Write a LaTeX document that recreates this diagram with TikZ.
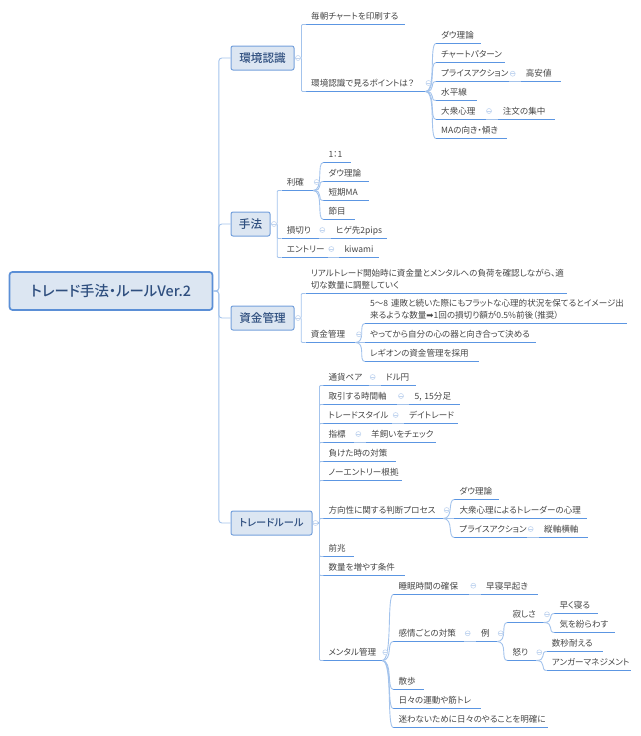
\documentclass[tikz,border=0pt]{standalone}
\usepackage{fontspec}
\setmainfont[RawFeature=+palt,BoldFont={Noto Sans CJK JP Medium}]{Noto Sans CJK JP}
\newfontfamily\symfont{DejaVu Sans}
\definecolor{linedark}{HTML}{5B8FD6}
\definecolor{lineunder}{HTML}{5C96E2}
\definecolor{linelight}{HTML}{A3C3EC}
\definecolor{foldline}{HTML}{C3D6F0}
\definecolor{boxfill}{HTML}{DCE6F2}
\definecolor{boxtext}{HTML}{2F4F7F}
\definecolor{topictext}{HTML}{454545}
\tikzset{
  root/.style={draw=linedark,fill=boxfill,line width=1.7pt,rounded corners=3pt,text=boxtext,font=\fontsize{14.4}{16}\selectfont\bfseries,minimum width=203,minimum height=38,inner sep=0},
  branch/.style={draw=linedark!85,fill=boxfill,line width=1pt,rounded corners=2pt,text=boxtext,font=\fontsize{11.6}{14}\selectfont\bfseries,minimum height=24,inner sep=0},
  topic/.style={anchor=south west,inner xsep=0,inner ysep=3,text width=#1,text height=8,text depth=2,align=left,text=topictext,font=\fontsize{8.55}{12.2}\selectfont,
    execute at begin node={\advance\leftskip by 5pt},
    append after command={\pgfextra{\draw[lineunder,line width=1.4pt] (\tikzlastnode.south west) -- (\tikzlastnode.south east);}}},
  link/.style={draw=linelight,line width=0.9pt},
  trunk/.style={link,rounded corners=3pt},
  bracket/.style={link,rounded corners=1pt},
  fan/.style={link,to path={.. controls +(11,0) and +(-7,0) .. (\tikztotarget)}},
  fold/.style={circle,draw=foldline,fill=white,line width=0.6pt,inner sep=0,minimum size=5,
    path picture={\draw[foldline,line width=0.6pt] (path picture bounding box.west) -- (path picture bounding box.east);}}
}
\begin{document}
\begin{tikzpicture}[x=1pt,y=-1pt]
  \useasboundingbox (0,0) rectangle (640,736);

  \node[root] (main) at (111,291) {トレード手法・ルールVer.2};
  \node[branch,minimum width=63] (env) at (262.5,58) {環境認識};
  \node[branch,minimum width=39] (method) at (250.5,224) {手法};
  \node[branch,minimum width=63] (fund) at (262.5,318) {資金管理};
  \node[branch,minimum width=81,font=\fontsize{10.2}{14}\selectfont\bfseries] (rule) at (271.5,523) {トレードルール};

  \node[topic=99] (print) at (306,24.5) {毎朝チャートを印刷する};
  \node[topic=119] (points) at (306,91.5) {環境認識で見るポイントは？};
  \node[topic=45] (dowA) at (436,43.5) {ダウ理論};
  \node[topic=69] (pattern) at (436,62.5) {チャートパターン};
  \node[topic=73] (priceA) at (436,81.5) {プライスアクション};
  \node[topic=40] (highlow) at (520.7,81.5) {高安値};
  \node[topic=41] (level) at (436,100.5) {水平線};
  \node[topic=50] (crowdA) at (436,119.5) {大衆心理};
  \node[topic=57] (order) at (497.7,119.5) {注文の集中};
  \node[topic=71] (slope) at (436,138.5) {MAの向き・傾き};

  \node[topic=31] (profit) at (281.7,190.5) {利確};
  \node[topic=36.6] (loss) at (281.7,238.5) {損切り};
  \node[topic=56] (wick) at (330.7,238.5) {ヒゲ先2pips};
  \node[topic=45.6] (entry) at (281.7,257.5) {エントリー};
  \node[topic=39.7] (kiwami) at (339.3,257.5) {kiwami};
  \node[topic=27.4] (ratio) at (323.3,162.5) {1：1};
  \node[topic=45.7] (dowB) at (323.3,181.5) {ダウ理論};
  \node[topic=45.7] (shortma) at (323.3,200.5) {短期MA};
  \node[topic=31.7] (node) at (323.3,219.5) {節目};

  \node[topic=261,text depth=14.2] (live) at (305.7,293.5) {リアルトレード開始時に資金量とメンタルへの負荷を確認しながら、適\\切な数量に調整していく};
  \node[topic=49.3] (money) at (305.7,342.5) {資金管理};
  \node[topic=261.7,text depth=14.2] (streak) at (365,323.5) {5～8 連敗と続いた際にもフラットな心理的状況を保てるとイメージ出\\来るような数量{\symfont ➡}1回の損切り額が0.5\%前後（推奨）};
  \node[topic=170.7] (vessel) at (365,342.5) {やってから自分の心の器と向き合って決める};
  \node[topic=113.3] (legion) at (365,361.5) {レギオンの資金管理を採用};

  \node[topic=45] (pair) at (323.3,385.5) {通貨ペア};
  \node[topic=35.3] (usdjpy) at (380.7,385.5) {ドル円};
  \node[topic=73.4] (frame) at (323.3,404.5) {取引する時間軸};
  \node[topic=50.7] (minute) at (409.3,404.5) {5, 15分足};
  \node[topic=68.4] (style) at (323.3,423.5) {トレードスタイル};
  \node[topic=53.3] (day) at (404,423.5) {デイトレード};
  \node[topic=30.7] (indicator) at (323.3,442.5) {指標};
  \node[topic=70] (sheep) at (366,442.5) {羊飼いをチェック};
  \node[topic=72.4] (defeat) at (323.3,461.5) {負けた時の対策};
  \node[topic=78.4] (noentry) at (323.3,480.5) {ノーエントリー根拠};
  \node[topic=119.4] (direction) at (323.3,518.5) {方向性に関する判断プロセス};
  \node[topic=44.4] (dowC) at (454.3,499.5) {ダウ理論};
  \node[topic=132.4] (crowdB) at (454.3,518.5) {大衆心理によるトレーダーの心理};
  \node[topic=72.4] (priceB) at (454.3,537.5) {プライスアクション};
  \node[topic=48.7] (axis) at (539,537.5) {縦軸横軸};
  \node[topic=30.7] (omen) at (323.3,556.5) {前兆};
  \node[topic=81.7] (lots) at (323.3,575.5) {数量を増やす条件};
  \node[topic=58.4] (mental) at (323.3,660.5) {メンタル管理};

  \node[topic=75.7] (sleep) at (393.3,594.5) {睡眠時間の確保};
  \node[topic=56.3] (early) at (481,594.5) {早寝早起き};
  \node[topic=70.7] (emotion) at (393.3,641.5) {感情ごとの対策};
  \node[topic=20.7] (sample) at (476,641.5) {例};
  \node[topic=36] (lonely) at (507.3,622.5) {寂しさ};
  \node[topic=28.4] (anger) at (507.3,660.5) {怒り};
  \node[topic=43.4] (bed) at (554.3,613.5) {早く寝る};
  \node[topic=60.7] (distract) at (554.3,632.5) {気を紛らわす};
  \node[topic=55.6] (endure) at (546.7,651.5) {数秒耐える};
  \node[topic=84.3] (angermgmt) at (546.7,670.5) {アンガーマネジメント};
  \node[topic=30.7] (walk) at (393.3,689.5) {散歩};
  \node[topic=87.7] (muscle) at (393.3,708.5) {日々の運動や筋トレ};
  \node[topic=154.4] (clear) at (393.3,727.5) {迷わないために日々のやることを明確に};

  \draw[trunk] (main.east) -- ++(5.5,0) |- (env.west);
  \draw[trunk] (main.east) -- ++(5.5,0) |- (method.west);
  \draw[trunk] (main.east) -- ++(5.5,0) |- (fund.west);
  \draw[trunk] (main.east) -- ++(5.5,0) |- (rule.west);

  \draw[bracket] (env.east) -- ++(7,0) |- (print.south west);
  \draw[bracket] (env.east) -- ++(7,0) |- (points.south west);
  \draw[fan] (points.south east) to (dowA.south west);
  \draw[fan] (points.south east) to (pattern.south west);
  \draw[fan] (points.south east) to (priceA.south west);
  \draw[fan] (points.south east) to (level.south west);
  \draw[fan] (points.south east) to (crowdA.south west);
  \draw[fan] (points.south east) to (slope.south west);
  \draw[link] (priceA.south east) -- (highlow.south west);
  \draw[link] (crowdA.south east) -- (order.south west);

  \draw[bracket] (method.east) -- ++(6.7,0) |- (profit.south west);
  \draw[bracket] (method.east) -- ++(6.7,0) |- (loss.south west);
  \draw[bracket] (method.east) -- ++(6.7,0) |- (entry.south west);
  \draw[fan] (profit.south east) to (ratio.south west);
  \draw[fan] (profit.south east) to (dowB.south west);
  \draw[fan] (profit.south east) to (shortma.south west);
  \draw[fan] (profit.south east) to (node.south west);
  \draw[link] (loss.south east) -- (wick.south west);
  \draw[link] (entry.south east) -- (kiwami.south west);

  \draw[bracket] (fund.east) -- ++(6.7,0) |- (live.south west);
  \draw[bracket] (fund.east) -- ++(6.7,0) |- (money.south west);
  \draw[fan] (money.south east) to (streak.south west);
  \draw[fan] (money.south east) to (vessel.south west);
  \draw[fan] (money.south east) to (legion.south west);

  \draw[bracket] (rule.east) -- ++(7,0) |- (pair.south west);
  \draw[bracket] (rule.east) -- ++(7,0) |- (frame.south west);
  \draw[bracket] (rule.east) -- ++(7,0) |- (style.south west);
  \draw[bracket] (rule.east) -- ++(7,0) |- (indicator.south west);
  \draw[bracket] (rule.east) -- ++(7,0) |- (defeat.south west);
  \draw[bracket] (rule.east) -- ++(7,0) |- (noentry.south west);
  \draw[bracket] (rule.east) -- ++(7,0) |- (direction.south west);
  \draw[bracket] (rule.east) -- ++(7,0) |- (omen.south west);
  \draw[bracket] (rule.east) -- ++(7,0) |- (lots.south west);
  \draw[bracket] (rule.east) -- ++(7,0) |- (mental.south west);
  \draw[link] (pair.south east) -- (usdjpy.south west);
  \draw[link] (frame.south east) -- (minute.south west);
  \draw[link] (style.south east) -- (day.south west);
  \draw[link] (indicator.south east) -- (sheep.south west);
  \draw[fan] (direction.south east) to (dowC.south west);
  \draw[fan] (direction.south east) to (crowdB.south west);
  \draw[fan] (direction.south east) to (priceB.south west);
  \draw[link] (priceB.south east) -- (axis.south west);

  \draw[fan] (mental.south east) to (sleep.south west);
  \draw[fan] (mental.south east) to (emotion.south west);
  \draw[fan] (mental.south east) to (walk.south west);
  \draw[fan] (mental.south east) to (muscle.south west);
  \draw[fan] (mental.south east) to (clear.south west);
  \draw[link] (sleep.south east) -- (early.south west);
  \draw[link] (emotion.south east) -- (sample.south west);
  \draw[fan] (sample.south east) to (lonely.south west);
  \draw[fan] (sample.south east) to (anger.south west);
  \draw[fan] (lonely.south east) to (bed.south west);
  \draw[fan] (lonely.south east) to (distract.south west);
  \draw[fan] (anger.south east) to (endure.south west);
  \draw[fan] (anger.south east) to (angermgmt.south west);

  \node[fold] (foldEnv) at (298,58) {};
  \node[fold] (foldPoints) at (428.5,83) {};
  \node[fold] (foldPriceA) at (512.7,73.7) {};
  \node[fold] (foldCrowdA) at (489,111) {};
  \node[fold] (foldMethod) at (274,224) {};
  \node[fold] (foldProfit) at (316.7,182) {};
  \node[fold] (foldLoss) at (322.3,230) {};
  \node[fold] (foldEntry) at (331.3,249) {};
  \node[fold] (foldFund) at (298,318) {};
  \node[fold] (foldMoney) at (359,334.3) {};
  \node[fold] (foldRule) at (315.5,523) {};
  \node[fold] (foldPair) at (372.7,377) {};
  \node[fold] (foldFrame) at (401,396) {};
  \node[fold] (foldStyle) at (395.7,415) {};
  \node[fold] (foldIndicator) at (358.3,434) {};
  \node[fold] (foldDirection) at (446.7,510) {};
  \node[fold] (foldPriceB) at (530.7,529) {};
  \node[fold] (foldMental) at (385.3,652.3) {};
  \node[fold] (foldSleep) at (473.3,585.7) {};
  \node[fold] (foldEmotion) at (467.7,633.3) {};
  \node[fold] (foldSample) at (500.7,633.3) {};
  \node[fold] (foldLonely) at (547,614.3) {};
  \node[fold] (foldAnger) at (539.3,652.3) {};
\end{tikzpicture}
\end{document}
